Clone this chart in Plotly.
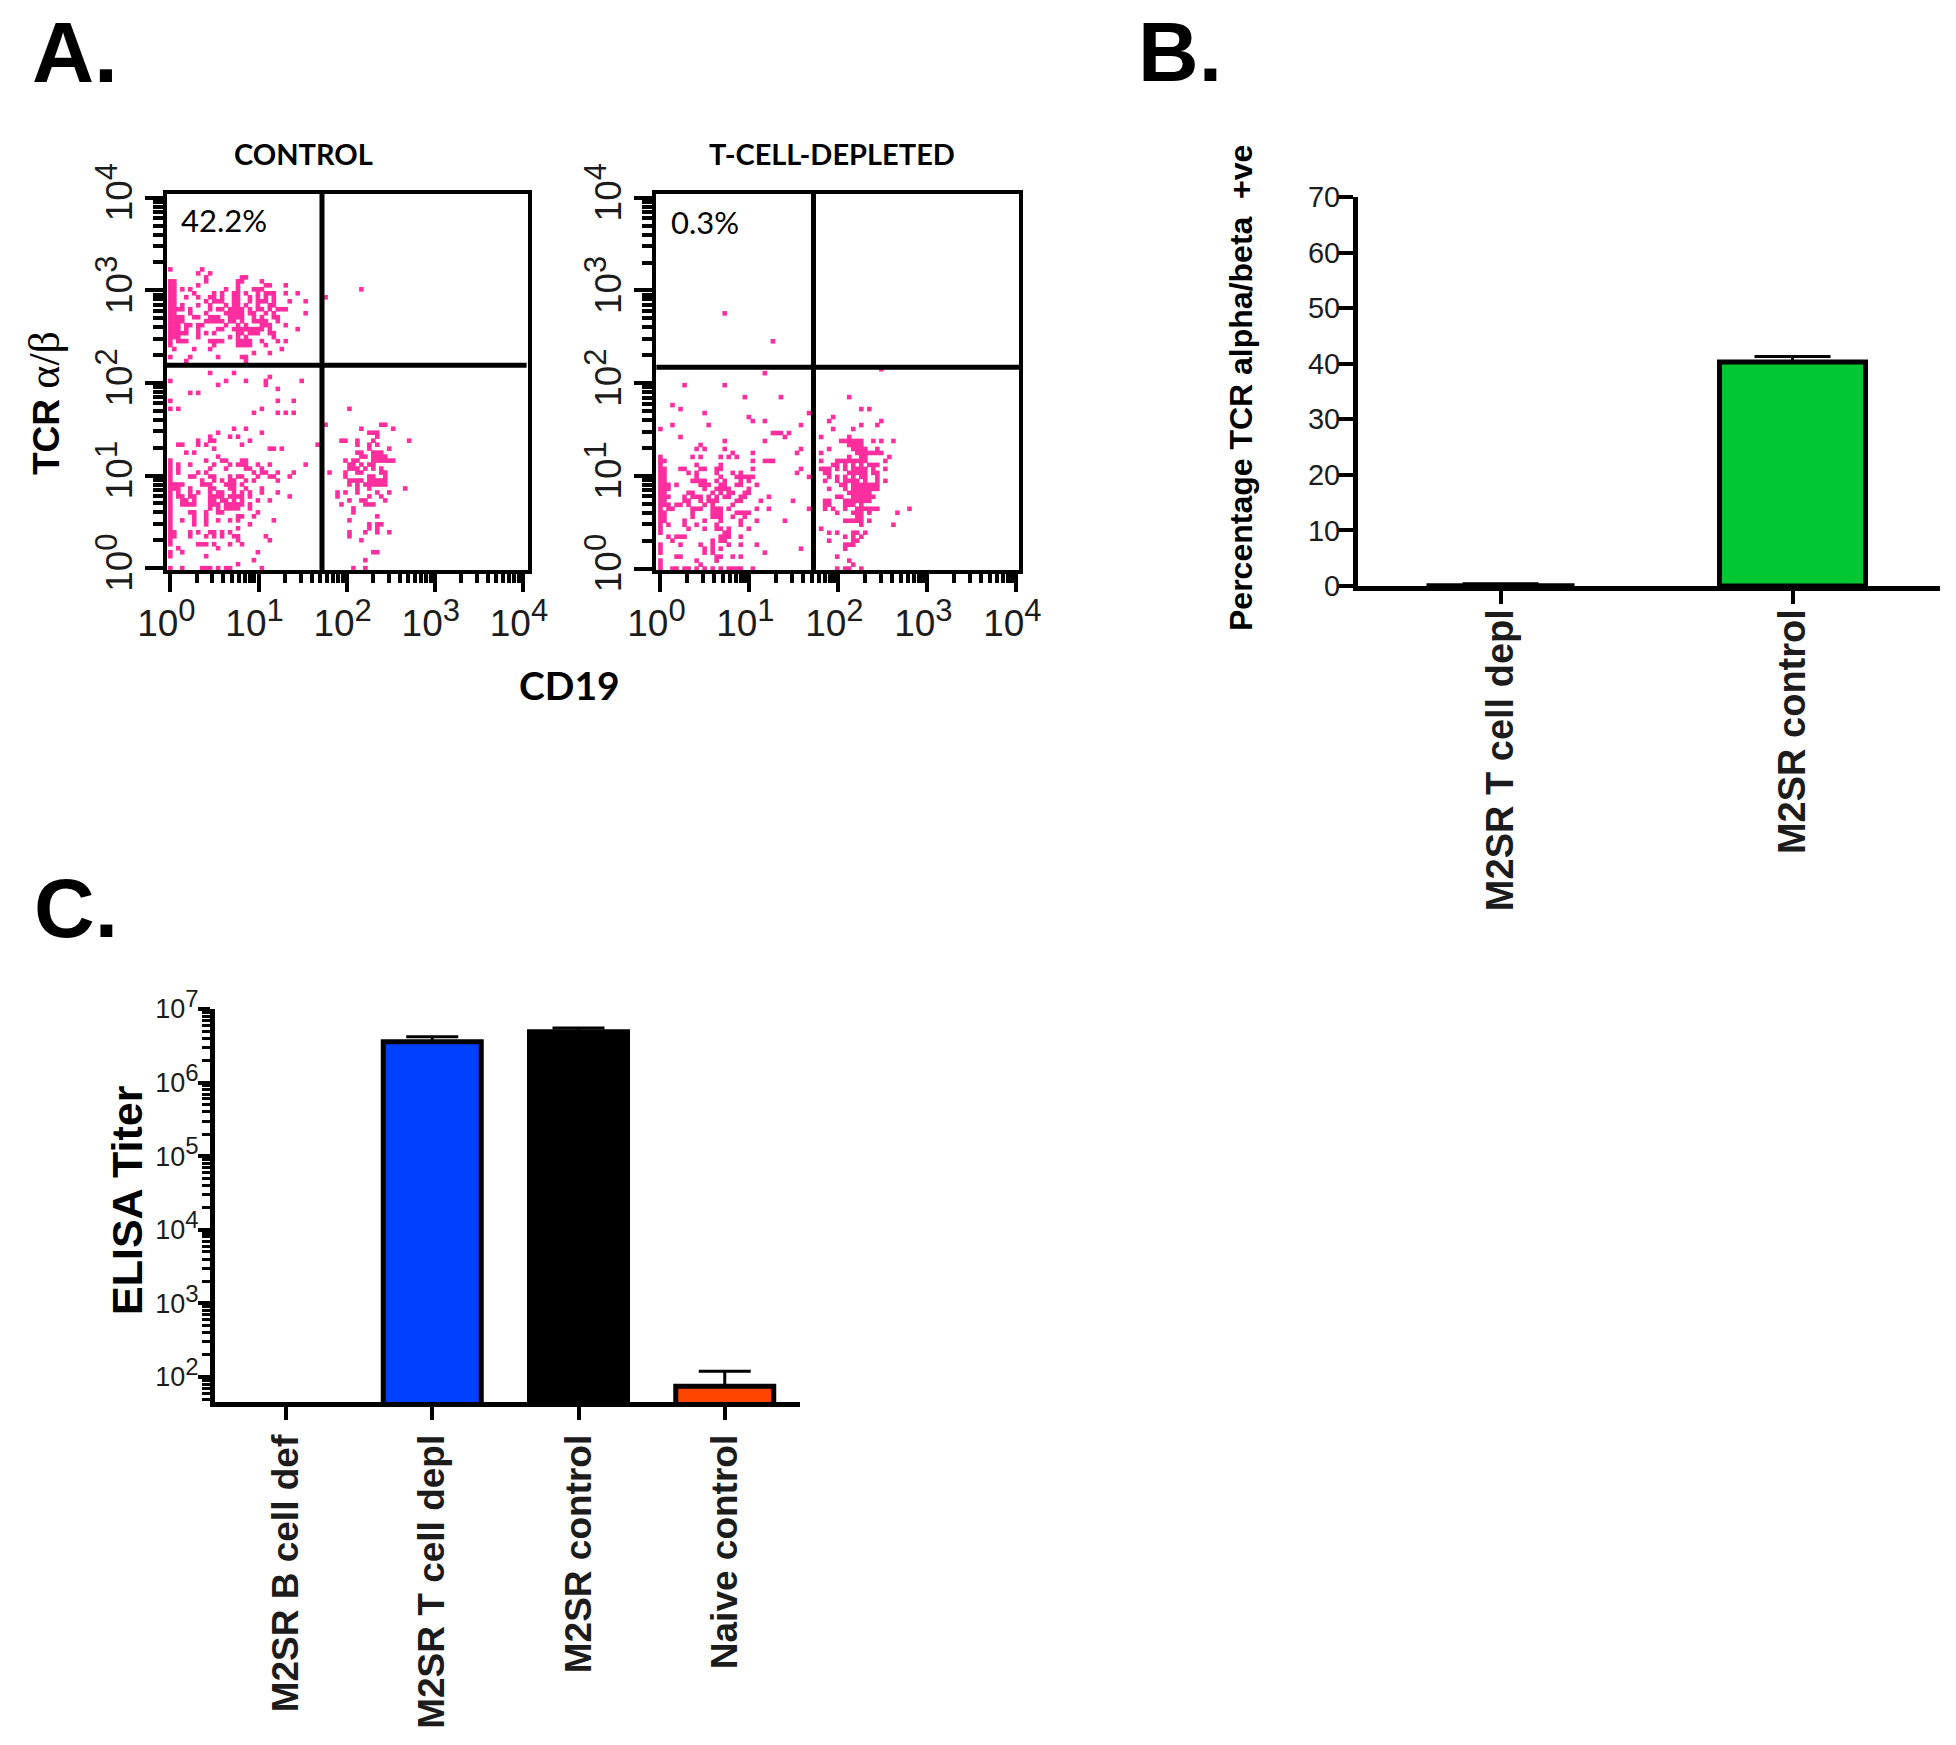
import plotly.graph_objects as go

W, H = 1956, 1745

# ---- Panel A: dot plots, binned cytometer channels as (row, [columns]) ----
control_upper_left = [
    (75,[0,8]),(74,[7,10]),(73,[9,18,19]),(72,[0,1,9,17,18,23]),(71,[0,1,7,17,24,25,29]),
    (70,[0,1,3,5,14,17,21,22,23]),(69,[0,1,6,11,13,16,17,19,22,24,25,26,29,32]),
    (68,[0,1,4,7,10,11,13,16,17,20,22,24,26]),(67,[0,1,9,11,12,13,16,17,20,22,23,24,26,30,34]),
    (66,[0,1,3,7,10,14,16,17,19,22,25,26]),(65,[0,1,2,3,5,10,12,13,15,16,17,18,20,22,23,25,27,28,29]),
    (64,[0,1,5,9,14,15,16,17,18,20,21,24,26,34]),(63,[0,1,2,3,6,7,10,11,12,15,16,17,18,21,23,26,27]),
    (62,[0,1,2,3,9,10,11,12,13,15,16,18,21,22,23,24,27]),(61,[0,1,2,4,5,7,8,14,17,19,23,24,25,29]),
    (60,[0,1,2,4,7,12,13,16,17,18,19,20,21,22,23,25,32]),(59,[0,1,2,3,4,7,9,11,17,18,20,21,22,25,26]),
    (58,[0,1,2,7,15,17,19,26]),(57,[0,2,3,4,10,11,12,13,17,18,19,20,23,27,29]),
    (56,[0,11,17,18,19,20,24]),(55,[1,6,10,28]),(54,[21,25]),(53,[0,5,12,18,19]),(52,[4,19]),
]
control_upper_right = [(70,[48]),(68,[39])]
control_lower_left = [
    (49,[10,16]),(48,[25]),(47,[0,14,19,24,33]),(46,[12,24]),(45,[27]),(44,[5,7]),(42,[0,27,31]),
    (40,[0,2,23]),(39,[21,27,29,31]),(35,[16,19]),(34,[12,23]),(33,[10,15,17]),(32,[7,10,11,20]),
    (31,[2,3,7,9,18,37]),(30,[11,25,26,28]),(29,[4,6]),(28,[12]),(27,[0,9,13,14,18,19]),
    (26,[0,2,5,11,15,17,18,19,22,25,34]),(25,[0,2,10,14,19,20,23]),(24,[0,2,7,9,21,23,24,27,31]),
    (23,[0,5,6,10,11,15,17,18,22,25,26,30]),(22,[0,8,11,13,15,16,19,21,27]),
    (21,[0,1,2,3,8,9,10,14,15,16,18]),(20,[0,1,2,5,10,11,15,16,19,23]),
    (19,[0,2,5,7,10,12,13,16,18,20,23,27]),(18,[0,2,3,5,6,10,11,12,13,15,16,17,18,20,30]),
    (17,[0,3,4,6,10,11,13,14,16,18,22,25]),(16,[0,3,4,5,6,10,11,12,14,15,16,17,18,20]),
    (15,[0,10,12,14,15,16,17,20]),(14,[0,5,6,9,12,13,22]),(13,[0,6,9,17,18,21]),
    (12,[0,3,6,9,12,15,17,26]),(11,[0,6,9,20]),(10,[0,17]),(9,[0,1,5,7,10,11,13,15]),
    (8,[0,1,5,9,11,13,16,17,24]),(7,[0,17,25]),(6,[0,7,8,9,11,15,18]),(5,[2,12]),(4,[0,3,22]),
    (3,[0,9]),(2,[21]),(1,[17]),(0,[0,3,8,9,10,12,14,15,23]),
]
control_lower_right = [
    (40,[45]),(36,[39,53,54]),(35,[48,56]),(34,[50,51,52]),(33,[52]),(32,[43,44,47,51,60]),
    (31,[47,50,52]),(30,[50,55]),(29,[47,48,51,52,53]),(28,[48,49,51,52,53,54]),
    (27,[44,46,47,51,52,53,54,55,56]),(26,[45,46,48,50,51]),(25,[45,46,47,49,51,53]),
    (24,[40,44,47,48,53,54]),(23,[44,50,51,54]),(22,[45,46,47,48,50,51,52,53,54]),
    (21,[45,47,49,50,51,52,53,54]),(20,[47,50,59]),(19,[42,44,47,52,55]),(18,[42,50,53]),
    (17,[45,48,49,54]),(16,[43,49,50,51]),(15,[46]),(14,[46]),(13,[52]),(12,[45]),
    (11,[50,52,53]),(10,[50,52]),(9,[45,49,52,55]),(8,[45]),(7,[48]),(4,[51,52]),(2,[49]),(0,[46,49]),
]
depleted_upper = [(64,[16]),(57,[28])]
depleted_lower_left = [
    (49,[26]),(46,[6,16]),(43,[21,30]),(41,[3]),(40,[5]),(39,[11,37]),(38,[22]),(37,[23,26]),
    (36,[3,12,35]),(35,[0]),(34,[28,29,30,32]),(33,[5,31]),(32,[16,26]),(31,[10]),(30,[9,11,16,35]),
    (29,[18,23,34]),(28,[0,8,10,15,17,19]),(27,[0,1,23,26,27,28]),(26,[0,9,15]),
    (25,[0,1,5,6,10,11,14,15,23,35]),(24,[0,1,7,9,14,18,20,34]),(23,[0,1,9,15,19,20,21,22,23,37]),
    (22,[0,1,8,9,10,11,14,16,20,22]),(21,[0,1,2,4,10,11,12,15,16,19,20,24]),
    (20,[0,1,2,11,14,15,16,17,22]),(19,[0,1,7,8,13,15,17,18,21,22]),
    (18,[0,1,2,6,8,9,10,12,14,16,17,20,21,27]),(17,[0,1,6,7,10,12,13,14,19,20,25,33]),
    (16,[0,1,2,4,5,7,11,13,18]),(15,[0,2,3,8,9,10,13,14,15,17,24,27,37]),
    (14,[0,1,8,13,14,15,19,20,21,22]),(13,[0,1,8,13,14,15,18,21]),(12,[0,1,6,11,15,20,24,31]),
    (11,[0,2,6,9,14,20]),(10,[0,7,11,14,15,17,22]),(9,[0,16,17]),(8,[2,4,5,6,15,16,17,20]),
    (7,[3,13,15,16]),(6,[0,5,10,13,17,20,24]),(5,[0,11,13,15,35]),(4,[0,11,13,26]),
    (3,[4,5,14,15,18,20]),(2,[0,9,14]),(1,[0,10]),(0,[0,3,4,6,7,9,11,13,15,17,18,19,20,23]),
]
depleted_lower_right = [
    (50,[55]),(43,[47]),(40,[50,52]),(38,[43]),(37,[42,55]),(36,[50,54]),(35,[43,48]),(33,[40,47]),
    (32,[45,46,47,48,49,50,53,55,58]),(31,[47,48,49,50]),(30,[42,48,49,50,51,54]),
    (29,[40,49,50,51,52,53,54,55]),(28,[47,50,51,57]),(27,[40,44,45,46,47,48,49,50,51,56]),
    (26,[43,44,46,48,50,52,53,54]),(25,[40,41,42,44,46,48,49,50,51,53,56]),
    (24,[41,42,47,48,49,50,51,53,54]),(23,[42,44,46,48,50,51,54]),(22,[41,44,46,47,48,49,51,54,56]),
    (21,[45,46,48,49,50,51,52,53,54]),(20,[42,46,48,49,50,51,52,53,54]),(19,[47,48,49,50,51,52]),
    (18,[44,45,48,49,50,51,52,53]),(17,[41,42,46,47,48,49,50,51,52]),(16,[41,42,46,47,48,50]),
    (15,[41,43,46,49,50,51,52,53,54,62]),(14,[44,48,49,50,52,59]),(13,[49,50]),
    (12,[46,47,48,49,50,52]),(11,[50,58]),(10,[40]),(9,[42,44,48,49,51]),(8,[46,48,50]),(7,[42,48,49]),
    (6,[46,47,48]),(5,[46]),(3,[44]),(2,[47]),(1,[48]),(0,[44,46,47,50]),
]
channels_per_decade_x = 22.15
channels_per_decade_y = 23.25
gate_cd19 = 52.5
gate_tcr_control = 155
gate_tcr_depleted = 148
decades = [1, 10, 100, 1000, 10000]
decade_exponents = [0, 1, 2, 3, 4]

# ---- Panel B ----
b_categories = ["M2SR T cell depl", "M2SR control"]
b_values = [0.3, 40.3]
b_errors = [0.1, 1.0]
b_colors = ["#ffffff", "#00c832"]
b_ticks = [0, 10, 20, 30, 40, 50, 60, 70]

# ---- Panel C ----
c_categories = ["M2SR B cell def", "M2SR T cell depl", "M2SR control", "Naive control"]
c_values = [None, 3.6e6, 4.9e6, 75]
c_errors = [0, 0.6e6, 0.6e6, 45]
c_colors = ["#ffffff", "#0040ff", "#000000", "#ff4500"]
c_exponents = [2, 3, 4, 5, 6, 7]


def fx(px):
    return px / W


def fy(py):
    return 1 - py / H


def flat(groups):
    xs, ys = [], []
    for rows in groups:
        for r, cols in rows:
            for c in cols:
                xs.append(10 ** (c / channels_per_decade_x))
                ys.append(10 ** (r / channels_per_decade_y))
    return xs, ys


def minors(lo, hi):
    return [m * 10 ** e for e in range(lo, hi) for m in range(2, 10)]


def sup(e, size):
    return f'10<sup><span style="font-size:{size}px">{e}</span></sup>'


INK = "#1c1c1c"
fig = go.Figure()
axis_font = dict(family="Liberation Sans", size=37, color=INK)
decade_labels = [sup(e, 31) for e in decade_exponents]


def dot_axes(n, x0, x1, y0, y1, xr, yr):
    xa = "xaxis" if n == 1 else f"xaxis{n}"
    ya = "yaxis" if n == 1 else f"yaxis{n}"
    fig.update_layout(**{
        xa: dict(type="log", domain=[fx(x0), fx(x1)], range=xr, anchor=f"y{n if n > 1 else ''}", automargin=False,
                 showgrid=False, zeroline=False, showline=True, mirror=True, linecolor="black", linewidth=4,
                 tickmode="array", tickvals=decades, ticktext=decade_labels, ticks="outside", ticklen=18,
                 tickwidth=4, tickcolor="black", tickfont=axis_font, ticklabelshift=-4, tickangle=0,
                 minor=dict(tickmode="array", tickvals=minors(0, 4), ticks="outside", ticklen=9, tickwidth=4,
                            tickcolor="black", showgrid=False)),
        ya: dict(type="log", domain=[fy(y1), fy(y0)], range=yr, anchor=f"x{n if n > 1 else ''}", automargin=False,
                 showgrid=False, zeroline=False, showline=True, mirror=True, linecolor="black", linewidth=4,
                 tickmode="array", tickvals=decades, ticktext=decade_labels, ticks="outside", ticklen=18,
                 tickwidth=4, tickcolor="black", tickfont=axis_font, tickangle=-90, ticklabelstandoff=-2,
                 minor=dict(tickmode="array", tickvals=minors(0, 4), ticks="outside", ticklen=10, tickwidth=4,
                            tickcolor="black", showgrid=False)),
    })


def dots(n, groups, gate_tcr):
    xs, ys = flat(groups)
    s = n if n > 1 else ""
    fig.add_trace(go.Scatter(x=xs, y=ys, mode="markers", xaxis=f"x{s}", yaxis=f"y{s}",
                             marker=dict(symbol="square", size=4.6, color="#ff2e9e", line=dict(width=0)),
                             showlegend=False, cliponaxis=False))
    for gx, gy in (([gate_cd19, gate_cd19], [0.95, 12000]), ([0.9, 11000], [gate_tcr, gate_tcr])):
        fig.add_trace(go.Scatter(x=gx, y=gy, mode="lines", xaxis=f"x{s}", yaxis=f"y{s}",
                                 line=dict(color="black", width=5), showlegend=False))


dot_axes(1, 167, 528, 194, 570, [-0.038, 4.057], [-0.02, 4.04])
dot_axes(2, 656, 1019, 194, 570, [-0.05, 4.03], [-0.015, 4.04])
dots(1, [control_upper_left, control_upper_right, control_lower_left, control_lower_right], gate_tcr_control)
dots(2, [depleted_upper, depleted_lower_left, depleted_lower_right], gate_tcr_depleted)

# Panel B
fig.add_trace(go.Bar(x=b_categories, y=b_values, xaxis="x3", yaxis="y3", width=0.5,
                     marker=dict(color=b_colors, line=dict(color="black", width=[2, 5])),
                     error_y=dict(type="data", symmetric=False, array=b_errors, arrayminus=[0, 0],
                                  color="black", thickness=3, width=38),
                     showlegend=False))
fig.update_layout(
    xaxis3=dict(domain=[fx(1358), fx(1940)], anchor="y3", range=[-0.488, 1.505], type="category", automargin=False,
                showgrid=False, zeroline=False, showline=True, linecolor="black", linewidth=5,
                ticks="outside", ticklen=13, tickwidth=4, tickcolor="black", tickangle=-90, ticklabelstandoff=-10,
                tickmode="array", tickvals=b_categories, ticktext=[f"<b>{c}</b>" for c in b_categories],
                tickfont=dict(family="Liberation Sans", size=38, color=INK)),
    yaxis3=dict(domain=[fy(586), fy(197)], anchor="x3", range=[0, 70], tickvals=b_ticks, automargin=False,
                showgrid=False, zeroline=False, showline=True, linecolor="black", linewidth=5,
                ticks="outside", ticklen=16, tickwidth=4, tickcolor="black", ticklabelstandoff=-9,
                tickfont=dict(family="Liberation Sans", size=29, color=INK)),
)

# Panel C
fig.add_trace(go.Bar(x=c_categories, y=c_values, xaxis="x4", yaxis="y4", width=0.67,
                     marker=dict(color=c_colors, line=dict(color="black", width=5)),
                     error_y=dict(type="data", symmetric=False, array=c_errors, arrayminus=[0, 0, 0, 0],
                                  color="black", thickness=3, width=26),
                     showlegend=False))
fig.update_layout(
    xaxis4=dict(domain=[fx(215), fx(800)], anchor="y4", range=[-0.4855, 3.5145], type="category", automargin=False,
                showgrid=False, zeroline=False, showline=True, linecolor="black", linewidth=5,
                ticks="outside", ticklen=13, tickwidth=4, tickcolor="black", tickangle=-90,
                tickmode="array", tickvals=c_categories, ticktext=[f"<b>{c}</b>" for c in c_categories],
                tickfont=dict(family="Liberation Sans", size=37, color=INK)),
    yaxis4=dict(domain=[fy(1402), fy(1009)], anchor="x4", type="log", range=[1.66, 7], automargin=False,
                tickmode="array", tickvals=[10 ** e for e in c_exponents],
                ticktext=[sup(e, 24) for e in c_exponents],
                showgrid=False, zeroline=False, showline=True, linecolor="black", linewidth=5,
                ticks="outside", ticklen=12, tickwidth=4, tickcolor="black", ticklabelstandoff=-6,
                tickfont=dict(family="Liberation Sans", size=27, color=INK),
                minor=dict(tickmode="array", tickvals=minors(1, 7), ticks="outside", ticklen=8, tickwidth=3,
                           tickcolor="black", showgrid=False)),
)


def label(text, x, y, size, family="Liberation Sans", angle=0, xanchor="center", yanchor="middle", color="black"):
    fig.add_annotation(text=text, x=fx(x), y=fy(y), xref="paper", yref="paper", showarrow=False,
                       textangle=angle, xanchor=xanchor, yanchor=yanchor,
                       font=dict(family=family, size=size, color=color))


label("<b>A.</b>", 30, 52, 86, xanchor="left")
label("<b>B.</b>", 1136, 52, 84, xanchor="left")
label("<b>C.</b>", 32, 908, 84, xanchor="left")
label("<b>CONTROL</b>", 303, 154, 29, family="Lato")
label("<b>T-CELL-DEPLETED</b>", 832, 154, 29, family="Lato")
label("42.2%", 179, 220, 31, family="Lato", xanchor="left")
label("0.3%", 669, 222, 31, family="Lato", xanchor="left")
label("<b>CD19</b>", 569, 685, 39, family="Lato")
label('<b>TCR</b> <span style="font-family:Liberation Serif;font-size:44px">α/β</span>', 44, 403, 37, angle=-90)
label("<b>Percentage TCR alpha/beta  +ve</b>", 1241, 388, 32, angle=-90)
label("<b>ELISA Titer</b>", 127, 1200, 43, angle=-90)

fig.update_layout(width=W, height=H, autosize=False, margin=dict(l=0, r=0, t=0, b=0),
                  paper_bgcolor="white", plot_bgcolor="white", showlegend=False, bargap=0.3)

fig.write_html("out.html", config={"displayModeBar": False}, post_script="document.body.style.margin='0';")
